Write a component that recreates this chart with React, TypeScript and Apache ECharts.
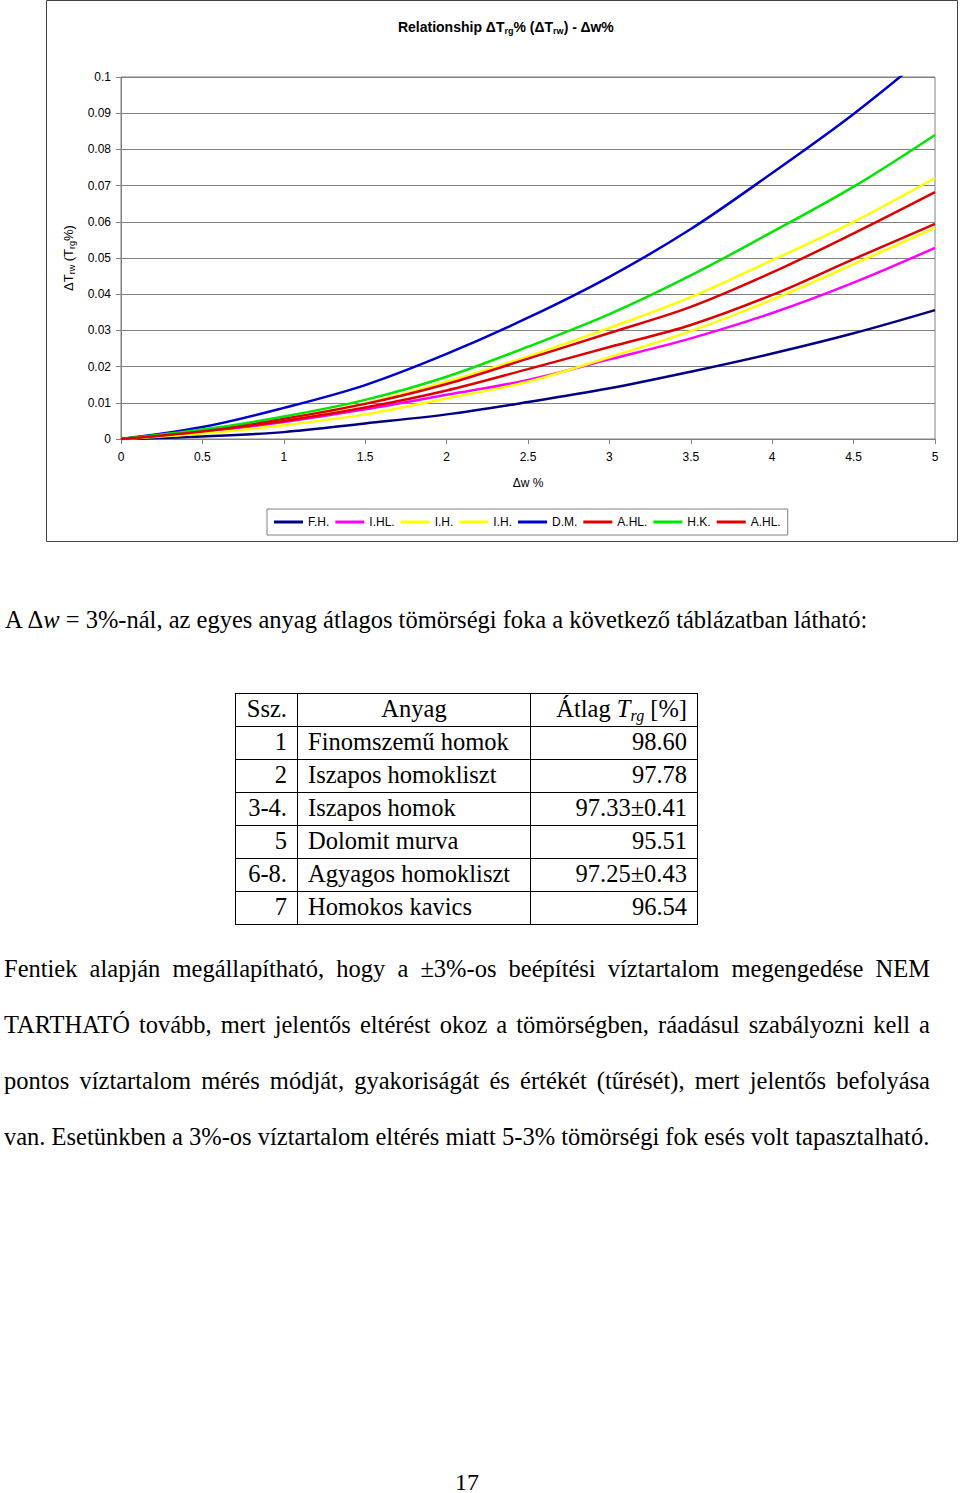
import React, { useEffect, useRef } from "react";
import * as echarts from "echarts";

const X_VALUES = [0, 0.5, 1, 1.5, 2, 2.5, 3, 3.5, 4, 4.5, 5];
const X_TICKS = ["0", "0.5", "1", "1.5", "2", "2.5", "3", "3.5", "4", "4.5", "5"];

const FH = [0, 0.0007, 0.0019, 0.0043, 0.0068, 0.0102, 0.014, 0.0186, 0.0236, 0.0292, 0.0356];
const IHL = [0, 0.0019, 0.0047, 0.0082, 0.0122, 0.0163, 0.022, 0.0278, 0.0348, 0.0432, 0.0528];
const IH1 = [0, 0.0015, 0.0038, 0.0068, 0.0112, 0.0158, 0.0226, 0.0298, 0.0385, 0.0483, 0.0583];
const IH2 = [0, 0.0022, 0.0055, 0.0098, 0.0158, 0.0228, 0.0307, 0.0392, 0.0494, 0.06, 0.0721];
const DM = [0, 0.0033, 0.0086, 0.0149, 0.0235, 0.0335, 0.0448, 0.058, 0.0735, 0.0898, 0.108];
const AHL1 = [0, 0.0023, 0.0056, 0.0097, 0.0152, 0.0222, 0.0293, 0.0365, 0.046, 0.0568, 0.0682];
const HK = [0, 0.0026, 0.0062, 0.0108, 0.0172, 0.0255, 0.0345, 0.0452, 0.0572, 0.0697, 0.084];
const AHL2 = [0, 0.0021, 0.005, 0.0087, 0.0134, 0.0193, 0.0254, 0.0315, 0.0398, 0.0497, 0.0594];

const SERIES_NAMES = ["F.H.", "I.HL.", "I.H.", "I.H.", "D.M.", "A.HL.", "H.K.", "A.HL."];
const SERIES_DATA = [FH, IHL, IH1, IH2, DM, AHL1, HK, AHL2];
const SERIES_COLORS = ["#000080", "#FF00FF", "#FFFF00", "#FFFF00", "#0000CC", "#DD0000", "#00E600", "#DD0000"];

const TABLE_HEAD = ["Ssz.", "Anyag"];
const TABLE_NO = ["1", "2", "3-4.", "5", "6-8.", "7"];
const TABLE_MATERIAL = ["Finomszemű homok", "Iszapos homokliszt", "Iszapos homok", "Dolomit murva", "Agyagos homokliszt", "Homokos kavics"];
const TABLE_AVG = ["98.60", "97.78", "97.33±0.41", "95.51", "97.25±0.43", "96.54"];

const PARAGRAPH_LINES = [
  "Fentiek alapján megállapítható, hogy a ±3%-os beépítési víztartalom megengedése NEM",
  "TARTHATÓ tovább, mert jelentős eltérést okoz a tömörségben, ráadásul szabályozni kell a",
  "pontos víztartalom mérés módját, gyakoriságát és értékét (tűrését), mert jelentős befolyása",
  "van. Esetünkben a 3%-os víztartalom eltérés miatt 5-3% tömörségi fok esés volt tapasztalható.",
];

const ZW = "\u200B";

function Chart() {
  const ref = useRef<HTMLDivElement>(null);
  useEffect(() => {
    if (!ref.current) return;
    const chart = echarts.init(ref.current, undefined, { renderer: "svg" });
    const sans = "Liberation Sans, Arial, sans-serif";
    const names = SERIES_NAMES.map((n, i) => n + ZW.repeat(i));
    chart.setOption({
      animation: false,
      textStyle: { fontFamily: sans },
      title: {
        text: "Relationship ΔT{s|rg}% (ΔT{s|rw}) - Δw%",
        left: 501,
        textAlign: "center",
        top: 14,
        textStyle: {
          fontFamily: sans,
          fontSize: 14,
          fontWeight: "bold",
          color: "#000",
          rich: {
            s: { fontSize: 9, fontWeight: "bold", fontFamily: sans, padding: [7, 0, 0, 0] },
          },
        },
      },
      graphic: [
        {
          type: "rect",
          shape: { x: 46.5, y: 0.5, width: 911, height: 541 },
          style: { fill: "none", stroke: "#444", lineWidth: 1 },
          silent: true,
        },
      ],
      legend: {
        left: 267,
        top: 509,
        padding: [7, 7],
        itemGap: 6,
        itemWidth: 29,
        itemHeight: 3,
        icon: "rect",
        borderColor: "#808080",
        borderWidth: 1,
        textStyle: { fontFamily: sans, fontSize: 12, color: "#000" },
        data: names,
        formatter: (n: string) => n.replace(/\u200B/g, ""),
      },
      grid: {
        left: 121,
        right: 25,
        top: 77,
        bottom: 106,
        show: true,
        borderColor: "#808080",
        borderWidth: 1,
      },
      xAxis: {
        type: "value",
        min: 0,
        max: 5,
        interval: 0.5,
        name: "Δw %",
        nameLocation: "middle",
        nameGap: 38,
        nameTextStyle: { fontFamily: sans, fontSize: 12, color: "#000" },
        axisLine: { show: true, lineStyle: { color: "#808080" } },
        axisTick: { show: true, length: 5, lineStyle: { color: "#808080" } },
        axisLabel: {
          fontFamily: sans,
          fontSize: 12,
          color: "#000",
          margin: 12,
          formatter: (v: number) => X_TICKS[Math.round(v / 0.5)] ?? String(v),
        },
        splitLine: { show: false },
      },
      yAxis: {
        type: "value",
        min: 0,
        max: 0.1,
        interval: 0.01,
        name: "ΔT{s|rw} (T{s|rg}%)",
        nameLocation: "middle",
        nameRotate: 90,
        nameGap: 43,
        nameTextStyle: {
          fontFamily: sans,
          fontSize: 13,
          color: "#000",
          rich: { s: { fontSize: 9, fontFamily: sans, padding: [7, 0, 0, 0] } },
        },
        axisLine: { show: true, lineStyle: { color: "#808080" } },
        axisTick: { show: true, length: 5, lineStyle: { color: "#808080" } },
        axisLabel: {
          fontFamily: sans,
          fontSize: 12,
          color: "#000",
          margin: 10,
          formatter: (v: number) => String(+v.toFixed(2)),
        },
        splitLine: { show: true, lineStyle: { color: "#808080", width: 1 } },
      },
      series: SERIES_DATA.map((d, i) => ({
        name: names[i],
        type: "line",
        smooth: 0.35,
        symbol: "none",
        clip: true,
        data: d.map((v, j) => [X_VALUES[j], v]),
        lineStyle: { color: SERIES_COLORS[i], width: 2.5 },
        itemStyle: { color: SERIES_COLORS[i] },
      })),
    });
    return () => chart.dispose();
  }, []);
  return <div ref={ref} style={{ position: "absolute", left: 0, top: 0, width: 960, height: 545 }} />;
}

export default function App() {
  const serif = "'Liberation Serif', 'Times New Roman', serif";
  const cell: React.CSSProperties = {
    border: "1.5px solid #000",
    padding: "0 10px 2px 10px",
    height: 30,
    lineHeight: "30px",
    whiteSpace: "nowrap",
    verticalAlign: "middle",
    boxSizing: "content-box",
  };
  return (
    <div style={{ position: "absolute", left: 0, top: 0, width: 960, height: 1493, background: "#fff", fontFamily: serif, color: "#000" }}>
      <Chart />
      <div style={{ position: "absolute", left: 5, top: 606, fontSize: 24.5, lineHeight: "28px", whiteSpace: "nowrap" }}>
        A Δ<i>w</i> = 3%-nál, az egyes anyag átlagos tömörségi foka a következő táblázatban látható:
      </div>
      <table
        style={{
          position: "absolute",
          left: 235,
          top: 693,
          borderCollapse: "collapse",
          fontSize: 24.5,
          fontFamily: serif,
        }}
      >
        <tbody>
          <tr>
            <td style={{ ...cell, width: 41, textAlign: "right" }}>{TABLE_HEAD[0]}</td>
            <td style={{ ...cell, width: 212, textAlign: "center" }}>{TABLE_HEAD[1]}</td>
            <td style={{ ...cell, width: 146, textAlign: "right" }}>
              Átlag <i>T</i>
              <sub style={{ fontSize: 16, fontStyle: "italic", verticalAlign: "-4px", lineHeight: "0" }}>rg</sub> [%]
            </td>
          </tr>
          {TABLE_NO.map((no, i) => (
            <tr key={i}>
              <td style={{ ...cell, textAlign: "right" }}>{no}</td>
              <td style={{ ...cell, textAlign: "left" }}>{TABLE_MATERIAL[i]}</td>
              <td style={{ ...cell, textAlign: "right" }}>{TABLE_AVG[i]}</td>
            </tr>
          ))}
        </tbody>
      </table>
      {PARAGRAPH_LINES.map((line, i) => (
        <div
          key={i}
          style={{
            position: "absolute",
            left: 4,
            top: 941 + i * 56,
            width: 926,
            fontSize: 24.5,
            lineHeight: "56px",
            whiteSpace: "nowrap",
            textAlign: i < PARAGRAPH_LINES.length - 1 ? "justify" : "left",
            textAlignLast: i < PARAGRAPH_LINES.length - 1 ? "justify" : "left",
          }}
        >
          {line}
        </div>
      ))}
      <div style={{ position: "absolute", left: 0, width: 934, top: 1468, textAlign: "center", fontSize: 24, lineHeight: "28px" }}>17</div>
    </div>
  );
}
